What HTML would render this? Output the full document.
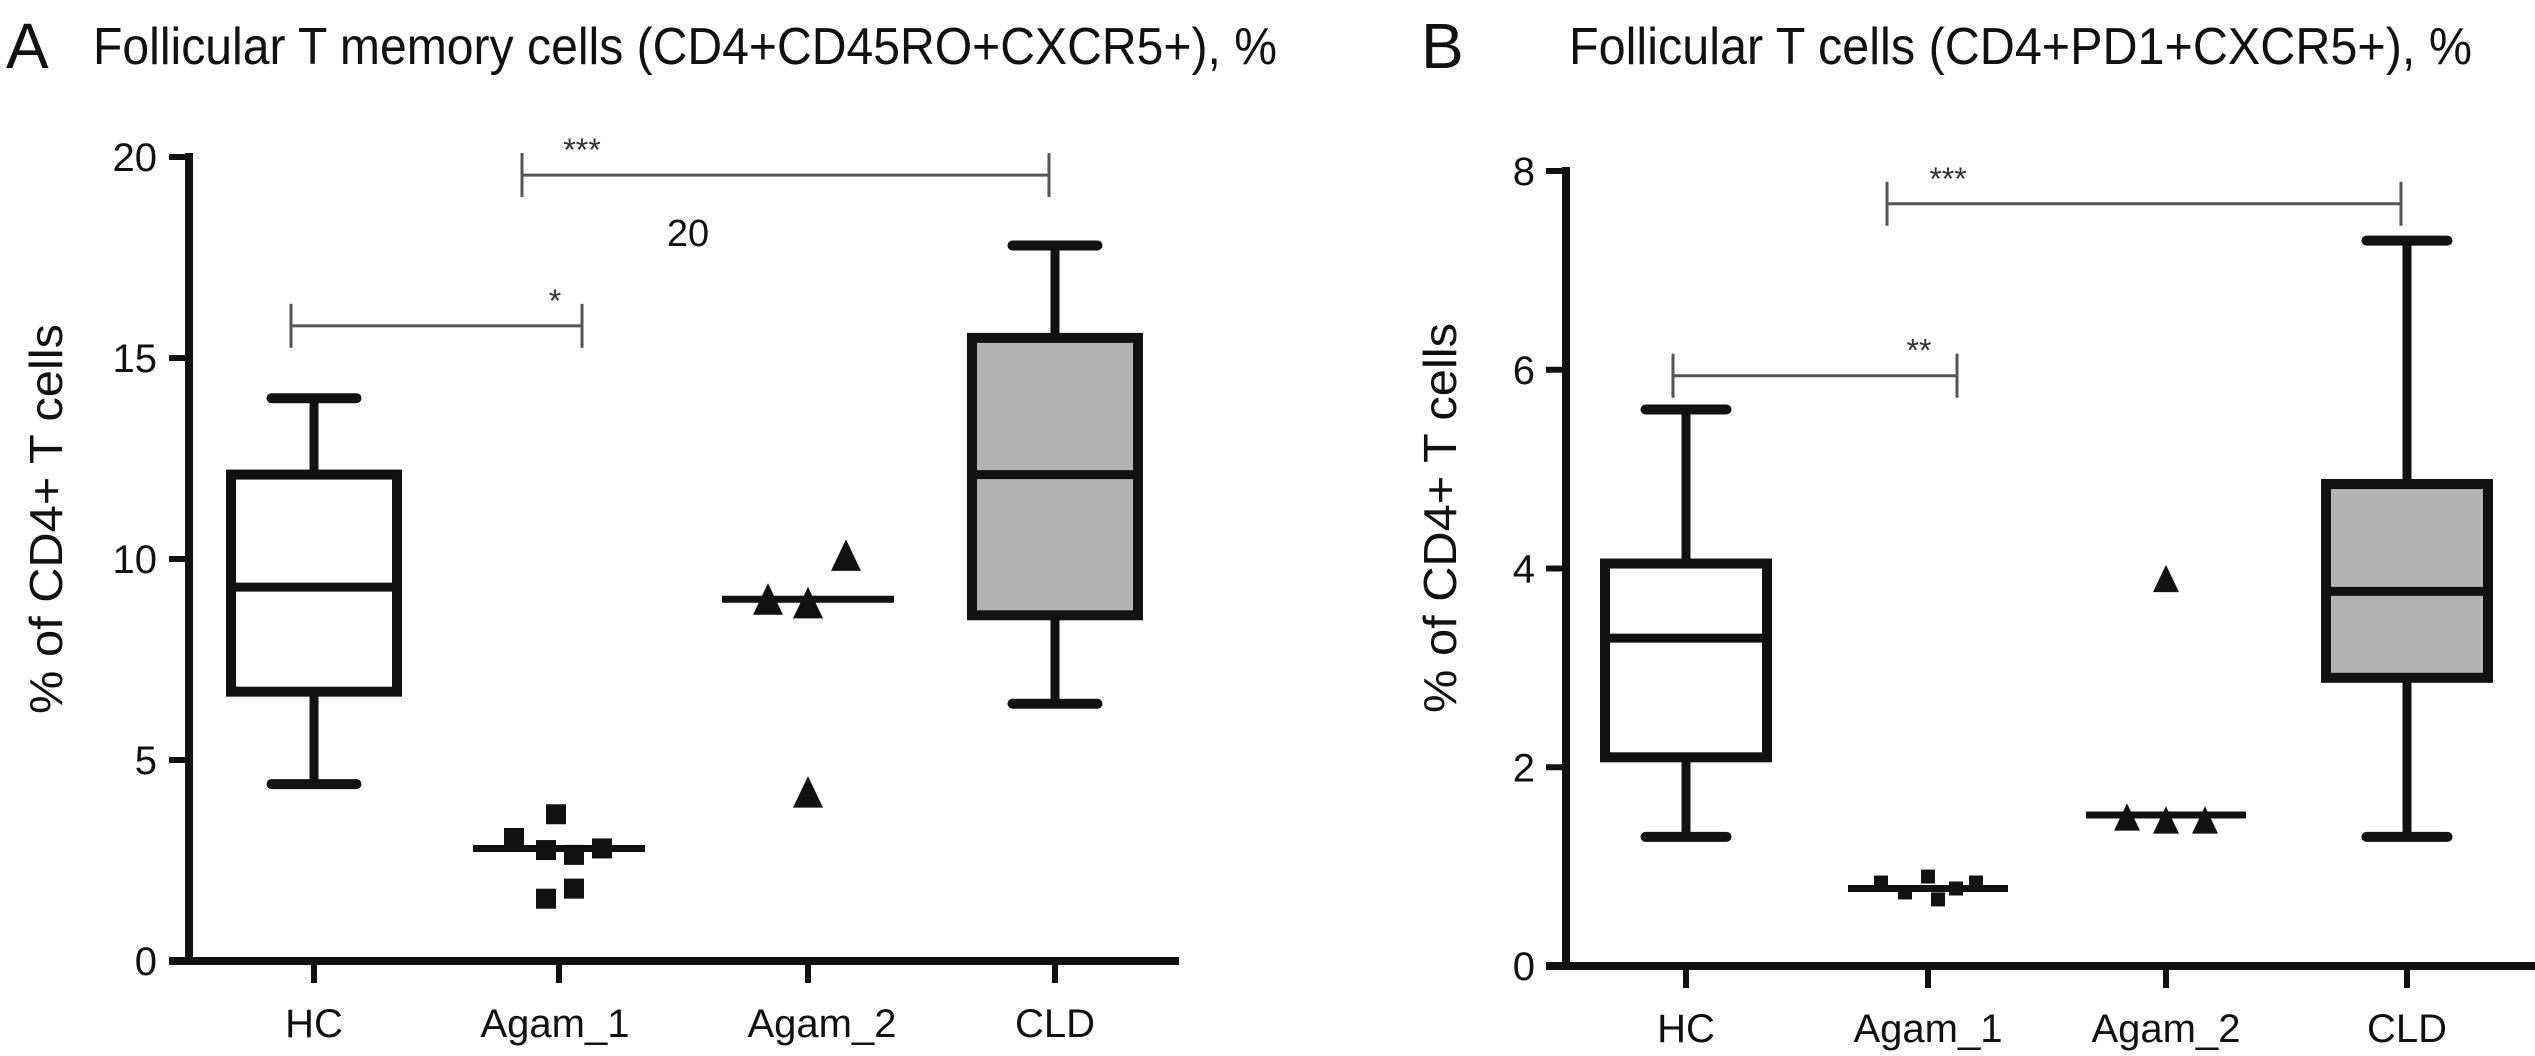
<!DOCTYPE html>
<html><head><meta charset="utf-8"><style>
html,body{margin:0;padding:0;background:#fff}
svg{display:block;font-family:"Liberation Sans",Arial,sans-serif}
</style></head><body>
<svg id="chart" width="2535" height="1056" viewBox="0 0 2535 1056" xmlns="http://www.w3.org/2000/svg">
<text x="6" y="68" font-size="64" fill="#111">A</text>
<text x="93" y="64" font-size="52" fill="#111" textLength="1184" lengthAdjust="spacingAndGlyphs">Follicular T memory cells (CD4+CD45RO+CXCR5+), %</text>
<text x="1421" y="68" font-size="64" fill="#111">B</text>
<text x="1569" y="64" font-size="52" fill="#111" textLength="903" lengthAdjust="spacingAndGlyphs">Follicular T cells (CD4+PD1+CXCR5+), %</text>
<g id="pa"></g>
<g id="pb"></g>
</svg>
<script>
const categories = ["HC","Agam_1","Agam_2","CLD"];
// Panel A
const aTicks = [0,5,10,15,20];
const aHC = {lo:4.4, q1:6.7, med:9.3, q3:12.1, hi:14.0};
const aCLD = {lo:6.4, q1:8.6, med:12.1, q3:15.5, hi:17.8};
const aAgam1 = [3.65,3.06,2.76,2.64,2.8,1.55,1.8];
const aAgam1Med = 2.8;
const aAgam2 = [8.95,8.86,10.04,4.15];
const aAgam2Med = 9.0;
const aSig = [{from:0,to:1,y:15.8,label:"*"},{from:1,to:3,y:19.55,label:"***"}];
// Panel B
const bTicks = [0,2,4,6,8];
const bHC = {lo:1.3, q1:2.1, med:3.3, q3:4.05, hi:5.6};
const bCLD = {lo:1.3, q1:2.9, med:3.77, q3:4.85, hi:7.3};
const bAgam1 = [0.84,0.74,0.9,0.67,0.78,0.84];
const bAgam1Med = 0.78;
const bAgam2 = [1.48,1.45,1.45,3.88];
const bAgam2Med = 1.52;
const bSig = [{from:0,to:1,y:5.94,label:"**"},{from:1,to:3,y:7.67,label:"***"}];
// jitter offsets (px) for scatter markers
const jA1 = [-3,-45,-13,15,43,-13,15];
const jA2 = [-40,0,38,0];
const jB1 = [-47,-23,0,10,28,48];
const jB2 = [-39,0,39,0];
// bracket layout (px): [x1,x2,labelX]
const brA = [[291,582,555],[522,1049,582]];
const brB = [[1673,1957,1919],[1887,2401,1948]];

const NS="http://www.w3.org/2000/svg";
function mk(parent,tag,attrs){const e=document.createElementNS(NS,tag);for(const k in attrs)e.setAttribute(k,attrs[k]);parent.appendChild(e);return e;}

function panel(g,cfg){
  const y=v=>cfg.y0+(cfg.yTop-cfg.y0)*(v/cfg.max);
  const x=i=>cfg.cx[i];
  const ax=mk(g,'line',{x1:cfg.axX,y1:cfg.yTop-4,x2:cfg.axX,y2:cfg.y0+4,stroke:'#111','stroke-width':8});
  
  const bx=mk(g,'line',{x1:cfg.axX-20,y1:cfg.y0,x2:cfg.axEnd,y2:cfg.y0,stroke:'#111','stroke-width':8});
  
  cfg.ticks.forEach(t=>{
    const l=mk(g,'line',{x1:cfg.axX-20,y1:y(t),x2:cfg.axX,y2:y(t),stroke:'#111','stroke-width':6});
    
    const tx=mk(g,'text',{x:cfg.labR,y:y(t)+14,'font-size':40,'text-anchor':'end',fill:'#111'});
    tx.textContent=t;
    
  });
  categories.forEach((c,i)=>{
    const l=mk(g,'line',{x1:x(i),y1:cfg.y0,x2:x(i),y2:cfg.y0+22,stroke:'#111','stroke-width':6});
    
    const tx=mk(g,'text',{x:cfg.lx[i],y:cfg.y0+76,'font-size':40,'text-anchor':'middle',fill:'#111'});
    tx.textContent=c;
    
  });
  const yt=mk(g,'text',{x:0,y:0,'font-size':46,'text-anchor':'middle',fill:'#111',transform:`translate(${cfg.ytX},${cfg.ytY}) rotate(-90)`,textLength:390,lengthAdjust:'spacingAndGlyphs'});
  yt.textContent='% of CD4+ T cells';
  
  function box(i,d,fill,name){
    const hw=cfg.boxW/2,cw=cfg.capW/2;
    const gg=mk(g,'g',{});
    
    mk(gg,'line',{x1:x(i),y1:y(d.lo),x2:x(i),y2:y(d.q1),stroke:'#111','stroke-width':9});
    mk(gg,'line',{x1:x(i),y1:y(d.hi),x2:x(i),y2:y(d.q3),stroke:'#111','stroke-width':9});
    mk(gg,'line',{x1:x(i)-cw,y1:y(d.lo),x2:x(i)+cw,y2:y(d.lo),stroke:'#111','stroke-width':10,'stroke-linecap':'round'});
    mk(gg,'line',{x1:x(i)-cw,y1:y(d.hi),x2:x(i)+cw,y2:y(d.hi),stroke:'#111','stroke-width':10,'stroke-linecap':'round'});
    mk(gg,'rect',{x:x(i)-hw,y:y(d.q3),width:cfg.boxW,height:y(d.q1)-y(d.q3),fill:fill,stroke:'#111','stroke-width':10});
    mk(gg,'line',{x1:x(i)-hw,y1:y(d.med),x2:x(i)+hw,y2:y(d.med),stroke:'#111','stroke-width':9});
  }
  box(0,cfg.hc,'#fff','box-hc');
  box(3,cfg.cld,'#b3b3b3','box-cld');
  const hl=cfg.medW/2;
  const m1=mk(g,'line',{x1:x(1)-hl,y1:y(cfg.a1m),x2:x(1)+hl,y2:y(cfg.a1m),stroke:'#111','stroke-width':7});
  
  cfg.a1.forEach((v,k)=>{
    const s=cfg.sq;
    const r=mk(g,'rect',{x:x(1)+cfg.j1[k]-s/2,y:y(v)-s/2,width:s,height:s,fill:'#111'});
    
  });
  const m2=mk(g,'line',{x1:x(2)-hl,y1:y(cfg.a2m),x2:x(2)+hl,y2:y(cfg.a2m),stroke:'#111','stroke-width':7});
  
  cfg.a2.forEach((v,k)=>{
    const cx=x(2)+cfg.j2[k],cy=y(v),h=cfg.tri;
    const p=mk(g,'polygon',{points:`${cx},${cy-h*0.6} ${cx-h*0.5},${cy+h*0.45} ${cx+h*0.5},${cy+h*0.45}`,fill:'#111'});
    
  });
  cfg.sig.forEach((s,k)=>{
    const gg=mk(g,'g',{stroke:'#555','stroke-width':3});
    
    const b=cfg.br[k],x1=b[0],x2=b[1],yy=y(s.y);
    mk(gg,'line',{x1:x1,y1:yy,x2:x2,y2:yy});
    mk(gg,'line',{x1:x1,y1:yy-22,x2:x1,y2:yy+22});
    mk(gg,'line',{x1:x2,y1:yy-22,x2:x2,y2:yy+22});
    const t=mk(g,'text',{x:b[2],y:yy-14,'font-size':32,'text-anchor':'middle',fill:'#333'});
    t.textContent=s.label;
    
  });
}
panel(document.getElementById('pa'),{y0:961,yTop:157,max:20,axX:189,axEnd:1179,cx:[314,559,808,1055],lx:[314,555,822,1055],ticks:aTicks,ytX:62,ytY:519,labR:157,
  hc:aHC,cld:aCLD,a1:aAgam1,a1m:aAgam1Med,a2:aAgam2,a2m:aAgam2Med,j1:jA1,j2:jA2,sig:aSig,br:brA,
  boxW:166,capW:85,medW:172,sq:20,tri:30});
panel(document.getElementById('pb'),{y0:966,yTop:171,max:8,axX:1566,axEnd:2535,cx:[1686,1928,2166,2407],lx:[1686,1928,2166,2407],ticks:bTicks,ytX:1456,ytY:518,labR:1535,
  hc:bHC,cld:bCLD,a1:bAgam1,a1m:bAgam1Med,a2:bAgam2,a2m:bAgam2Med,j1:jB1,j2:jB2,sig:bSig,br:brB,
  boxW:162,capW:81,medW:160,sq:14,tri:26});
const t20=document.createElementNS(NS,'text');
t20.setAttribute('x',688);t20.setAttribute('y',246);t20.setAttribute('font-size',38);t20.setAttribute('text-anchor','middle');t20.setAttribute('fill','#111');
t20.textContent='20';


document.getElementById('pa').appendChild(t20);
</script>
</body></html>
